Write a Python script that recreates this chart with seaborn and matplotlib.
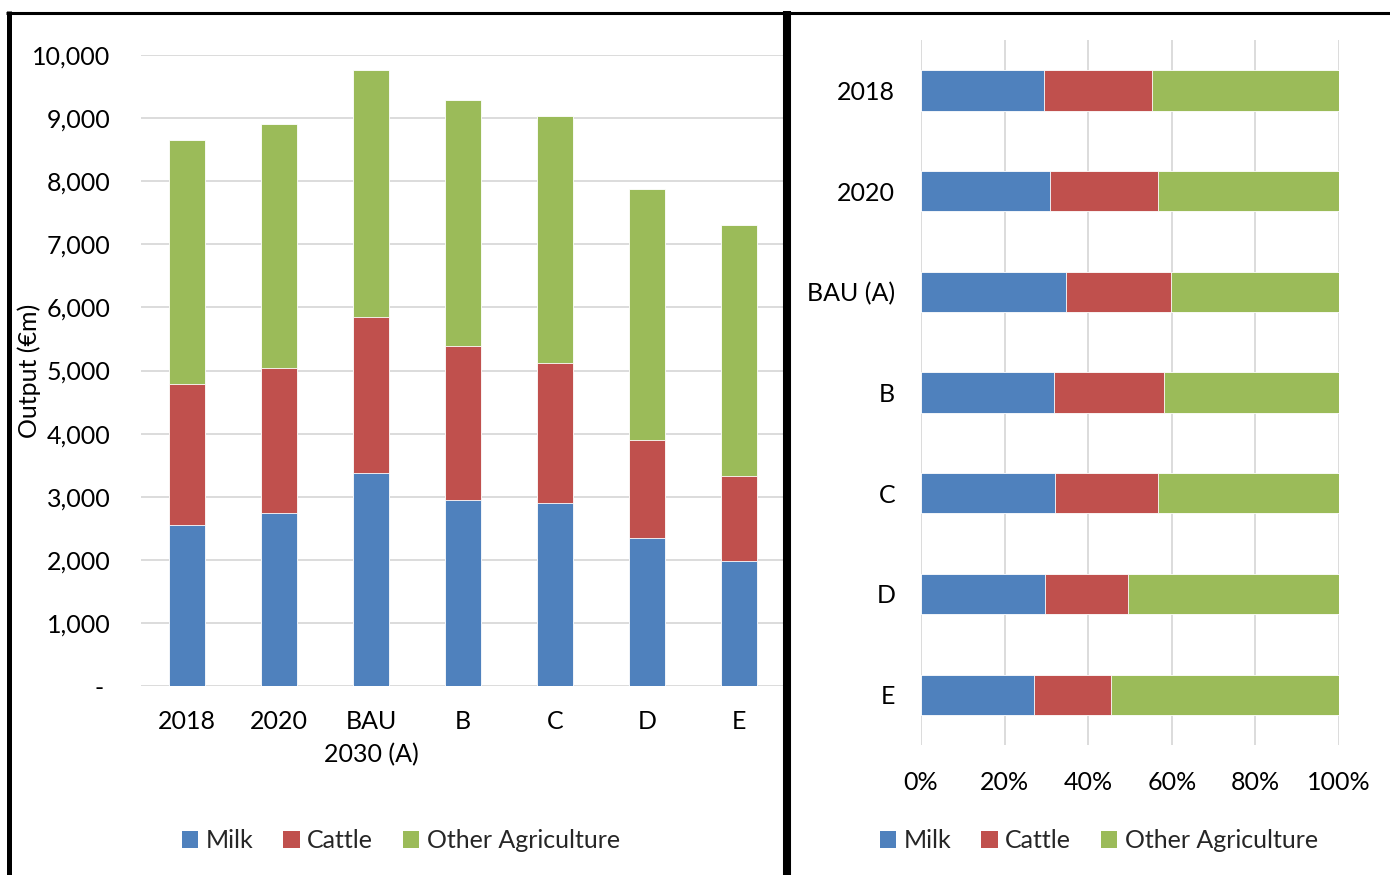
import matplotlib
matplotlib.use("Agg")
import matplotlib.pyplot as plt
from matplotlib.lines import Line2D
from matplotlib.patches import Patch
import numpy as np
import seaborn as sns

# Agricultural output by scenario (€m)
scenarios = ["2018", "2020", "BAU (A)", "B", "C", "D", "E"]
left_tick_labels = ["2018", "2020", "BAU\n2030 (A)", "B", "C", "D", "E"]
milk = [2550, 2740, 3380, 2950, 2900, 2345, 1980]
cattle = [2235, 2300, 2470, 2440, 2220, 1555, 1350]
other_agri = [3865, 3865, 3915, 3900, 3915, 3975, 3980]
series_names = ["Milk", "Cattle", "Other Agriculture"]
y_ticks = [0, 1000, 2000, 3000, 4000, 5000, 6000, 7000, 8000, 9000, 10000]
pct_ticks = [0, 0.2, 0.4, 0.6, 0.8, 1.0]

colors = ["#4F81BD", "#C0504D", "#9BBB59"]
grid_color = "#D9D9D9"

sns.set_theme(style="white")
plt.rcParams["font.family"] = ["Lato", "DejaVu Sans"]
FS = 18

W, H = 1390, 875
fig = plt.figure(figsize=(W / 100, H / 100), dpi=100)
fig.patch.set_facecolor("white")


def fx(px):
    return px / W


def fy(py):
    return 1 - py / H


milk_a = np.array(milk, dtype=float)
cattle_a = np.array(cattle, dtype=float)
other_a = np.array(other_agri, dtype=float)
layers = [milk_a, milk_a + cattle_a, milk_a + cattle_a + other_a]

# ---- Left panel: stacked absolute values ----
axl = fig.add_axes([fx(141), fy(686), fx(785 - 141), (686 - 55) / H])
for top, col in zip(reversed(layers), reversed(colors)):
    sns.barplot(x=scenarios, y=top, color=col, saturation=1, width=0.4,
                edgecolor="white", linewidth=0.6, ax=axl, zorder=3)
axl.set_xlim(-0.5, 6.5)
axl.set_ylim(0, 10000)
axl.set_yticks(y_ticks)
axl.set_yticklabels(["- " if v == 0 else f"{v:,}" for v in y_ticks])
axl.set_xticks(range(len(scenarios)))
axl.set_xticklabels(left_tick_labels, linespacing=1.55)
axl.grid(axis="y", color=grid_color, linewidth=1.3, zorder=0)
axl.grid(axis="x", visible=False)
for s in axl.spines.values():
    s.set_visible(False)
axl.tick_params(axis="y", length=0, pad=22, labelsize=FS, labelcolor="black")
axl.tick_params(axis="x", length=0, pad=17, labelsize=FS, labelcolor="black")
axl.set_xlabel("")
axl.set_ylabel("Output (€m)", fontsize=FS, color="black")
axl.yaxis.set_label_coords((41 - 141) / 644, 0.5)

# ---- Right panel: 100% stacked shares ----
totals = layers[-1]
axr = fig.add_axes([fx(921), fy(745), fx(1339 - 921), (745 - 40) / H])
for top, col in zip(reversed(layers), reversed(colors)):
    sns.barplot(x=top / totals, y=scenarios, orient="h", color=col,
                saturation=1, width=0.4, edgecolor="white", linewidth=0.6,
                ax=axr, zorder=3)
axr.set_xlim(0, 1)
axr.set_ylim(6.5, -0.5)
axr.set_xticks(pct_ticks)
axr.set_xticklabels([f"{int(round(v * 100))}%" for v in pct_ticks])
axr.grid(axis="x", color=grid_color, linewidth=1.3, zorder=0)
axr.grid(axis="y", visible=False)
for s in axr.spines.values():
    s.set_visible(False)
axr.tick_params(axis="x", length=0, pad=19, labelsize=FS, labelcolor="black")
axr.tick_params(axis="y", length=0, pad=18.5, labelsize=FS, labelcolor="black")
axr.set_xlabel("")
axr.set_ylabel("")

# ---- Legends ----
handles = [Patch(facecolor=c, edgecolor="none") for c in colors]
for cx in (401, 1099):
    fig.legend(handles, series_names, loc="center", ncol=3,
               bbox_to_anchor=(fx(cx), fy(841)), frameon=False,
               fontsize=FS, handlelength=0.65, handleheight=0.65,
               handletextpad=0.3, columnspacing=1.2, borderaxespad=0)

# ---- Panel borders ----
fig.add_artist(Line2D([fx(6), 1.0], [fy(12.5), fy(12.5)], color="black",
                      linewidth=2.2, solid_capstyle="butt"))
fig.add_artist(Line2D([fx(8.5), fx(8.5)], [fy(11), 0], color="black",
                      linewidth=3.6, solid_capstyle="butt"))
fig.add_artist(Line2D([fx(787), fx(787)], [fy(11), 0], color="black",
                      linewidth=5.8, solid_capstyle="butt"))

fig.savefig("out.png", dpi=100, facecolor="white")
